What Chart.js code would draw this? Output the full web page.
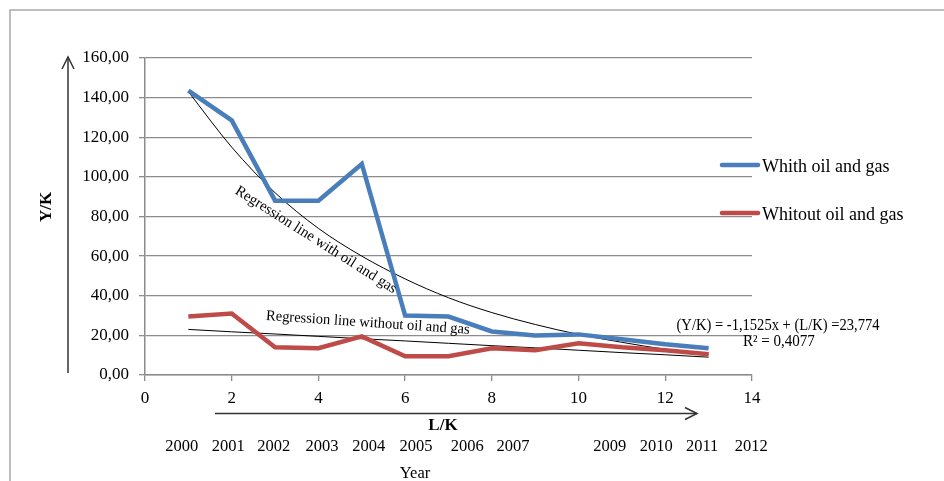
<!DOCTYPE html>
<html>
<head>
<meta charset="utf-8">
<script src="https://cdn.jsdelivr.net/npm/chart.js@4.4.1/dist/chart.umd.min.js"></script>
<style>
  html, body { margin: 0; padding: 0; background: #fff; }
  #wrap { width: 944px; height: 481px; position: relative; }
</style>
</head>
<body>
<div id="wrap"><canvas id="ch_yk"></canvas></div>
<script>
/* Y/K against L/K, with and without oil and gas, plus regression lines */

const lk        = [1, 2, 3, 4, 5, 6, 7, 8, 9, 10, 11, 12, 13];
const withOil   = [143.5, 128.5, 88, 88, 106.5, 30, 29.5, 22, 20, 20.5, 18, 15.5, 13.5];
const withoutOil= [29.5, 31, 14, 13.5, 19.5, 9.5, 9.5, 13.5, 12.5, 16, 14, 12.5, 10.5];
// trend lines
const trendWith    = [143, 115, 92, 74, 60, 48.5, 39, 31.5, 25.5, 20.5, 16.5, 13, 10.5];
const trendWithout = [23, 21.8, 20.7, 19.5, 18.3, 17.2, 16, 14.8, 13.7, 12.5, 11.3, 10.2, 9];
const years    = ['2000','2001','2002','2003','2004','2005','2006','2007','2009','2010','2011','2012'];
const yearsAt  = [0.85, 1.92, 2.97, 4.08, 5.16, 6.25, 7.43, 8.49, 10.72, 11.79, 12.85, 13.98];

const FONT = '"Liberation Serif", "Times New Roman", serif';
const BLUE = '#4a7ebb', RED = '#be4b48', GRID = '#8c8c8c';

const pts = ys => lk.map((x, i) => ({ x, y: ys[i] }));

function fitText(ctx, text, cx, cy, deg, width, font) {
  ctx.save();
  ctx.translate(cx, cy);
  ctx.rotate(deg * Math.PI / 180);
  ctx.font = font;
  const w = ctx.measureText(text).width;
  ctx.scale(width / w, 1);
  ctx.textAlign = 'center'; ctx.textBaseline = 'middle';
  ctx.fillText(text, 0, 0);
  ctx.restore();
}

const frame = {
  id: 'frame',
  beforeDraw(chart) {
    const c = chart.ctx;
    c.save();
    c.fillStyle = '#fff'; c.fillRect(0, 0, chart.width, chart.height);
    c.strokeStyle = '#a8a8a8'; c.lineWidth = 1.5;
    c.beginPath(); c.moveTo(10, chart.height); c.lineTo(10, 10); c.lineTo(chart.width, 10); c.stroke();
    c.restore();
  }
};

const notes = {
  id: 'notes',
  afterDraw(chart) {
    const c = chart.ctx, xs = chart.scales.x, ys = chart.scales.y;
    const px = v => xs.getPixelForValue(v), py = v => ys.getPixelForValue(v);
    c.save();
    c.fillStyle = '#000'; c.strokeStyle = '#222';

    // curve captions
    fitText(c, 'Regression line with oil and gas', px(3.94), py(68.2), 32.3, 188, '15px ' + FONT);
    fitText(c, 'Regression line without oil and gas', px(5.14), py(26.3), 3.9, 204, '15px ' + FONT);
    fitText(c, '(Y/K) = -1,1525x + (L/K) =23,774', px(14.6), py(24.7), 0, 203, '16px ' + FONT);
    fitText(c, 'R² = 0,4077', px(14.62), py(16.7), 0, 72, '16px ' + FONT);

    // legend
    [[BLUE, 'Whith oil and gas', 165], [RED, 'Whitout oil and gas', 213]].forEach(([col, txt, y]) => {
      c.strokeStyle = col; c.lineWidth = 4.5; c.lineCap = 'round';
      c.beginPath(); c.moveTo(722, y); c.lineTo(758, y); c.stroke();
      c.fillStyle = '#000'; c.font = '18px ' + FONT; c.textAlign = 'left'; c.textBaseline = 'middle';
      c.fillText(txt, 762, y + 2);
    });

    // Y arrow + label
    c.strokeStyle = '#333'; c.lineWidth = 1.5; c.lineCap = 'butt';
    c.beginPath(); c.moveTo(68, 373); c.lineTo(68, 57); c.stroke();
    c.beginPath(); c.moveTo(62, 69); c.lineTo(68, 57); c.lineTo(74, 69); c.stroke();
    c.save();
    c.translate(47, 207); c.rotate(-Math.PI / 2);
    c.font = 'bold 17px ' + FONT; c.textAlign = 'center'; c.textBaseline = 'middle';
    c.fillText('Y/K', 0, 0);
    c.restore();

    // X arrow + label
    c.beginPath(); c.moveTo(215, 413.5); c.lineTo(697, 413.5); c.stroke();
    c.beginPath(); c.moveTo(685, 407.5); c.lineTo(697, 413.5); c.lineTo(685, 419.5); c.stroke();
    c.font = 'bold 17px ' + FONT; c.textAlign = 'center'; c.textBaseline = 'middle';
    c.fillText('L/K', 443, 426);

    // years
    c.font = '16.5px ' + FONT;
    years.forEach((y, i) => c.fillText(y, px(yearsAt[i]), 447));
    c.fillText('Year', 415, 474);
    c.restore();
  }
};

new Chart(document.getElementById('ch_yk').getContext('2d'), {
  type: 'line',
  data: {
    datasets: [
      { label: 'Whith oil and gas', data: pts(withOil), borderColor: BLUE, borderWidth: 4.5, pointRadius: 0, borderJoinStyle: 'miter', tension: 0 },
      { label: 'Whitout oil and gas', data: pts(withoutOil), borderColor: RED, borderWidth: 4.5, pointRadius: 0, borderJoinStyle: 'miter', tension: 0 },
      { label: 'trend with', data: pts(trendWith), borderColor: '#000', borderWidth: 1, pointRadius: 0, cubicInterpolationMode: 'monotone' },
      { label: 'trend without', data: pts(trendWithout), borderColor: '#000', borderWidth: 1, pointRadius: 0, tension: 0 }
    ]
  },
  options: {
    responsive: true,
    maintainAspectRatio: false,
    animation: false,
    layout: { padding: { left: 0, top: 58, right: 192, bottom: 0 } },
    plugins: { legend: { display: false }, tooltip: { enabled: false } },
    scales: {
      x: {
        type: 'linear', min: 0, max: 14,
        afterFit: s => { s.height = 106; },
        grid: { drawOnChartArea: false, drawTicks: true, tickLength: 6, color: GRID, lineWidth: 1.3 },
        border: { color: GRID, width: 1.5 },
        ticks: { stepSize: 2, padding: 7, color: '#000', font: { family: FONT, size: 17 } }
      },
      y: {
        min: 0, max: 160,
        afterFit: s => { s.width = 145; },
        grid: { drawTicks: true, tickLength: 6, color: GRID, lineWidth: 1.3 },
        border: { color: GRID, width: 1.5 },
        ticks: { stepSize: 20, padding: 10, color: '#000', font: { family: FONT, size: 17 },
                 callback: v => v.toFixed(2).replace('.', ',') }
      }
    }
  },
  plugins: [frame, notes]
});
</script>
</body>
</html>
